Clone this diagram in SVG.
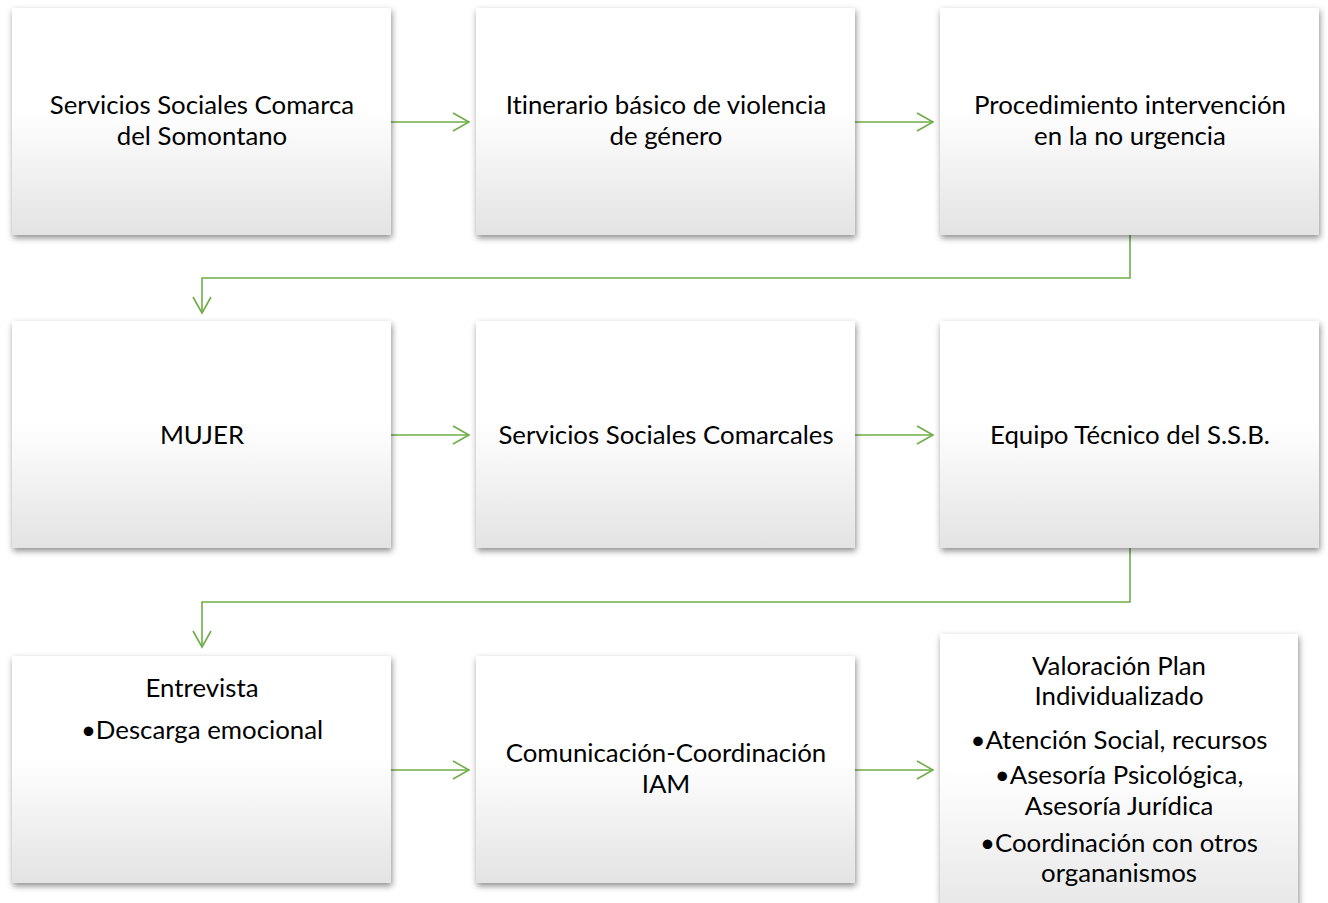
<svg xmlns="http://www.w3.org/2000/svg" width="1328" height="903" viewBox="0 0 1328 903">
  <defs>
    <linearGradient id="boxGrad" x1="0" y1="0" x2="0" y2="1">
      <stop offset="0" stop-color="#ffffff"/>
      <stop offset="0.45" stop-color="#ffffff"/>
      <stop offset="1" stop-color="#e3e3e3"/>
    </linearGradient>
    <filter id="shadow" x="-10%" y="-10%" width="120%" height="125%">
      <feDropShadow dx="1" dy="3" stdDeviation="3" flood-color="#000000" flood-opacity="0.45"/>
    </filter>
    <marker id="arrow" viewBox="0 0 20 20" refX="18" refY="10" markerWidth="20" markerHeight="20" markerUnits="userSpaceOnUse" orient="auto">
      <path d="M2,1 L18,10 L2,19" fill="none" stroke="#70ad47" stroke-width="1.6"/>
    </marker>
    <style>
      .box { fill: url(#boxGrad); filter: url(#shadow); }
      .lbl { font-family: Lato, "Liberation Sans", sans-serif; font-size: 25.8px; fill: #000000; text-anchor: middle; font-variant-ligatures: none; }
      .conn { fill: none; stroke: #70ad47; stroke-width: 1.6; marker-end: url(#arrow); }
    </style>
  </defs>
  <rect width="1328" height="903" fill="#ffffff"/>

  <g id="connectors">
    <path class="conn" d="M391,122 H469"/>
    <path class="conn" d="M855,122 H933"/>
    <path class="conn" d="M1130,235 V278 H202 V313"/>
    <path class="conn" d="M391,435 H469"/>
    <path class="conn" d="M855,435 H933"/>
    <path class="conn" d="M1130,548 V602 H202 V647"/>
    <path class="conn" d="M391,770 H469"/>
    <path class="conn" d="M855,770 H933"/>
  </g>

  <g id="node1">
    <rect class="box" x="12" y="8" width="379" height="227"/>
    <text class="lbl" x="202" y="114">Servicios Sociales Comarca</text>
    <text class="lbl" x="202" y="145">del Somontano</text>
  </g>
  <g id="node2">
    <rect class="box" x="476" y="8" width="379" height="227"/>
    <text class="lbl" x="666" y="114">Itinerario básico de violencia</text>
    <text class="lbl" x="666" y="145">de género</text>
  </g>
  <g id="node3">
    <rect class="box" x="940" y="8" width="379" height="227"/>
    <text class="lbl" x="1130" y="114">Procedimiento intervención</text>
    <text class="lbl" x="1130" y="145">en la no urgencia</text>
  </g>

  <g id="node4">
    <rect class="box" x="12" y="321" width="379" height="227"/>
    <text class="lbl" x="202" y="444">MUJER</text>
  </g>
  <g id="node5">
    <rect class="box" x="476" y="321" width="379" height="227"/>
    <text class="lbl" x="666" y="444">Servicios Sociales Comarcales</text>
  </g>
  <g id="node6">
    <rect class="box" x="940" y="321" width="379" height="227"/>
    <text class="lbl" x="1130" y="444">Equipo Técnico del S.S.B.</text>
  </g>

  <g id="node7">
    <rect class="box" x="12" y="656" width="379" height="227"/>
    <text class="lbl" x="202" y="697">Entrevista</text>
    <text class="lbl" x="202" y="739">•Descarga emocional</text>
  </g>
  <g id="node8">
    <rect class="box" x="476" y="656" width="379" height="227"/>
    <text class="lbl" x="666" y="762">Comunicación-Coordinación</text>
    <text class="lbl" x="666" y="793">IAM</text>
  </g>
  <g id="node9">
    <rect class="box" x="940" y="634" width="358" height="300"/>
    <text class="lbl" x="1119" y="675">Valoración Plan</text>
    <text class="lbl" x="1119" y="705">Individualizado</text>
    <text class="lbl" x="1119" y="749">•Atención Social, recursos</text>
    <text class="lbl" x="1119" y="784">•Asesoría Psicológica,</text>
    <text class="lbl" x="1119" y="815">Asesoría Jurídica</text>
    <text class="lbl" x="1119" y="852">•Coordinación con otros</text>
    <text class="lbl" x="1119" y="882">organanismos</text>
  </g>
</svg>
